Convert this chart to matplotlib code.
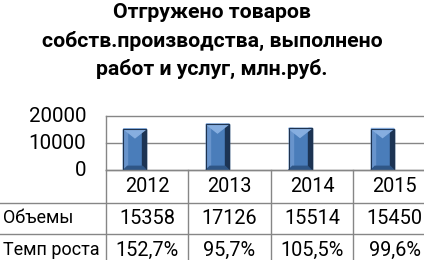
import matplotlib

matplotlib.use("Agg")
import matplotlib.pyplot as plt
from matplotlib.patches import Polygon, Rectangle

years = ["2012", "2013", "2014", "2015"]
volumes = [15358, 17126, 15514, 15450]
growth = ["152,7%", "95,7%", "105,5%", "99,6%"]
row_labels = ["Объемы", "Темп роста"]
y_ticks = [0, 10000, 20000]
title_lines = ["Отгружено товаров", "собств.производства, выполнено", "работ и услуг, млн.руб."]

W, H = 424, 260
plt.rcParams["font.family"] = ["Roboto", "DejaVu Sans"]
fig = plt.figure(figsize=(W / 100, H / 100), dpi=100)


def fx(px):
    return px / W


def fy(py):
    return 1 - py / H


# plot area (right edge runs past the figure, as in the original)
left, right, top, bottom = 105.7, 435.8, 116.2, 170.3
ax = fig.add_axes([fx(left), fy(bottom), fx(right - left), (bottom - top) / H])
ax.set_xlim(-0.5, len(years) - 0.5)
ax.set_ylim(0, 20000)
ax.axis("off")
grid = "#868686"
for t in y_ticks:
    ax.axhline(t, color=grid, lw=1.0, zorder=1, clip_on=False)
    fig.text(fx(86), fy(bottom - (bottom - top) * t / 20000), str(t),
             ha="right", va="center", fontsize=14.8)
ax.plot([-0.5, -0.5], [0, 20000], color=grid, lw=1.0, clip_on=False)

# bars with a bevel look
px_x = len(years) / (right - left)
px_y = 20000 / (bottom - top)
bw, off = 23 * px_x, -12 * px_x
for i, v in enumerate(volumes):
    x0 = i + off - bw / 2
    x1 = x0 + bw
    ax.add_patch(Rectangle((x0, 0), bw, v, color="#4A7DBA", zorder=3))
    ax.add_patch(Rectangle((x0, 0), 4 * px_x, v, color="#6894CC", zorder=3))
    ax.add_patch(Rectangle((x1 - 4 * px_x, 0), 4 * px_x, v, color="#1C3454", zorder=3))
    ax.add_patch(Polygon([(x0, 0), (x1, 0), (x1 - 4 * px_x, 4 * px_y), (x0 + 4 * px_x, 4 * px_y)],
                         color="#2F5686", zorder=4))
    ax.add_patch(Polygon([(x0, v), (x1, v), ((x0 + x1) / 2, v - 9 * px_y)],
                         color="#86AEE0", zorder=4))
    ax.add_patch(Rectangle((x0, 0), bw, v, fill=False, ec="#1E3350", lw=0.8, zorder=5))

# data table
rows = [170.3, 202.5, 234.0, 266.0]
col_w = (right - left) / len(years)
line_kw = dict(color=grid, lw=1.0)
fig.add_artist(plt.Line2D([fx(left), 1], [fy(rows[0])] * 2, **line_kw))
for r in rows[1:3]:
    fig.add_artist(plt.Line2D([0, 1], [fy(r)] * 2, **line_kw))
for k in range(len(years)):
    xl = left + k * col_w
    fig.add_artist(plt.Line2D([fx(xl)] * 2, [fy(rows[0]), 0], **line_kw))
for k, (y, v, g) in enumerate(zip(years, volumes, growth)):
    xc = left + (k + 0.5) * col_w
    for r, s in enumerate([y, str(v), g]):
        fig.text(fx(xc), fy((rows[r] + rows[r + 1]) / 2), s, ha="center", va="center", fontsize=14.3)
for r, lab in enumerate(row_labels, start=1):
    fig.text(fx(3), fy((rows[r] + rows[r + 1]) / 2), lab, ha="left", va="center", fontsize=13)

# title
for py, line in zip([18, 47, 75], title_lines):
    fig.text(0.5, fy(py), line, ha="center", va="baseline", fontsize=15.3, fontweight="bold")

fig.savefig("out.png", dpi=100)
